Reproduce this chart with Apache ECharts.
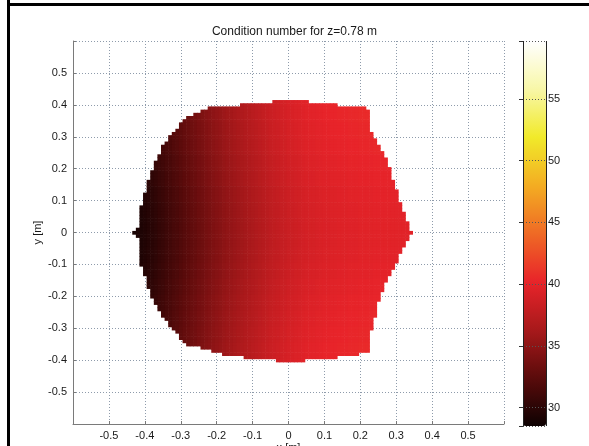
<!DOCTYPE html>
<html>
<head>
<meta charset="utf-8">
<script src="https://cdn.jsdelivr.net/npm/echarts@6/dist/echarts.min.js"></script>
<style>
html,body{margin:0;padding:0;background:#fff;}
#chart{width:589px;height:446px;}
</style>
</head>
<body>
<div id="chart"></div>
<script>
// ---------- data ----------
// grid rows (y, m), top to bottom, and the x-extent (cell centres, m) of the reachable region in each row
var yRows = [0.41,0.40,0.39,0.38,0.37,0.36,0.35,0.34,0.33,0.32,0.31,0.30,0.29,0.28,0.27,0.26,0.25,0.24,0.23,0.22,0.21,0.20,0.19,0.18,0.17,0.16,0.15,0.14,0.13,0.12,0.11,0.10,0.09,0.08,0.07,0.06,0.05,0.04,0.03,0.02,0.01,0.00,
  -0.01,-0.02,-0.03,-0.04,-0.05,-0.06,-0.07,-0.08,-0.09,-0.10,-0.11,-0.12,-0.13,-0.14,-0.15,-0.16,-0.17,-0.18,-0.19,-0.20,-0.21,-0.22,-0.23,-0.24,-0.25,-0.26,-0.27,-0.28,-0.29,-0.30,-0.31,-0.32,-0.33,-0.34,-0.35,-0.36,-0.37,-0.38,-0.39,-0.40];
var xLeft = [-0.04,-0.13,-0.22,-0.24,-0.26,-0.28,-0.29,-0.30,-0.30,-0.31,-0.32,-0.33,-0.33,-0.34,-0.35,-0.35,-0.35,-0.36,-0.36,-0.37,-0.37,-0.37,-0.38,-0.38,-0.38,-0.39,-0.39,-0.39,-0.39,-0.40,-0.40,-0.40,-0.40,-0.41,-0.41,-0.41,-0.41,-0.41,-0.41,-0.41,-0.42,-0.43,
  -0.42,-0.41,-0.41,-0.41,-0.41,-0.41,-0.41,-0.41,-0.41,-0.41,-0.40,-0.40,-0.40,-0.39,-0.39,-0.39,-0.39,-0.38,-0.38,-0.38,-0.37,-0.37,-0.36,-0.36,-0.35,-0.35,-0.34,-0.33,-0.33,-0.32,-0.31,-0.30,-0.30,-0.29,-0.28,-0.24,-0.21,-0.18,-0.12,-0.03];
var xRight = [0.05,0.13,0.21,0.22,0.22,0.22,0.22,0.22,0.22,0.22,0.23,0.23,0.24,0.24,0.25,0.25,0.26,0.26,0.27,0.27,0.27,0.28,0.28,0.28,0.28,0.29,0.29,0.29,0.30,0.30,0.30,0.30,0.31,0.31,0.31,0.32,0.32,0.32,0.33,0.33,0.33,0.34,
  0.33,0.33,0.32,0.32,0.31,0.31,0.30,0.30,0.30,0.29,0.29,0.28,0.28,0.27,0.27,0.26,0.26,0.26,0.25,0.25,0.25,0.24,0.24,0.24,0.24,0.24,0.23,0.23,0.23,0.23,0.22,0.22,0.22,0.22,0.22,0.22,0.22,0.19,0.13,0.04];
// condition number across x (along y = 0), one value per 0.01 m column starting at colStart
var colStart = -0.43;
var condProfile = [29.0,29.1,29.3,29.5,29.7,29.9,30.1,30.4,30.6,30.9,31.1,31.4,31.6,31.9,32.2,32.4,32.7,32.9,33.2,33.4,
  33.7,33.9,34.2,34.4,34.6,34.9,35.1,35.3,35.5,35.7,35.9,36.1,36.3,36.5,36.7,36.9,37.1,37.3,37.5,37.7,
  37.8,38.0,38.1,38.3,38.4,38.5,38.6,38.8,38.9,39.0,39.0,39.1,39.2,39.3,39.3,39.4,39.4,39.5,39.5,39.5,
  39.6,39.6,39.6,39.7,39.7,39.7,39.7,39.8,39.8,39.8,39.8,39.8,39.8,39.8,39.8,39.8,39.8,39.8];
// extra condition number seen towards the top/bottom edges, per 0.05 m band of |y|
var rowShift = [0, 0.05, 0.15, 0.3, 0.45, 0.6, 0.72, 0.82, 0.9];
var colorMin = 28.5, colorMax = 59.7;
var xTicks = [-0.5,-0.4,-0.3,-0.2,-0.1,0,0.1,0.2,0.3,0.4,0.5];
var cbTicks = [30,35,40,45,50,55];

// ---------- build cells ----------
var cells = [];
for (var r = 0; r < yRows.length; r++) {
  var y = yRows[r];
  var band = Math.min(rowShift.length - 1, Math.floor(Math.abs(y) / 0.05 + 1e-6));
  var a = Math.round(xLeft[r] * 100), b = Math.round(xRight[r] * 100);
  for (var k = a; k <= b; k++) {
    var ci = k - Math.round(colStart * 100);
    cells.push([k / 100, y, condProfile[ci] + rowShift[band]]);
  }
}

var font = 'Liberation Sans, Arial, sans-serif';
var gridLine = {show: true, lineStyle: {color: '#8e9bab', type: [1, 2], width: 1}};
var chart = echarts.init(document.getElementById('chart'), null, {renderer: 'canvas'});
chart.setOption({
  animation: false,
  backgroundColor: '#ffffff',
  title: {
    text: 'Condition number for z=0.78 m', left: 'center', top: 21,
    textStyle: {fontFamily: font, fontSize: 12, fontWeight: 'normal', color: '#1a1a1a'}
  },
  grid: [
    {left: 73, top: 41, width: 431, height: 383, containLabel: false, outerBoundsMode: 'none'},
    {left: 523, top: 41, width: 23, height: 385, containLabel: false, outerBoundsMode: 'none'}
  ],
  xAxis: [
    {
      type: 'value', gridIndex: 0, min: -0.6, max: 0.6, interval: 0.1,
      name: 'x [m]', nameLocation: 'middle', nameGap: 18, nameMoveOverlap: false,
      nameTextStyle: {fontFamily: font, fontSize: 11, color: '#1a1a1a', verticalAlign: 'top'},
      axisLine: {show: true, onZero: false, lineStyle: {color: '#7a7a7a', width: 1}},
      axisTick: {show: true, inside: true, length: 3, lineStyle: {color: '#7a7a7a'}},
      axisLabel: {fontFamily: font, fontSize: 11, color: '#1a1a1a', margin: 6,
        formatter: function (v) { var t = Math.round(v * 10) / 10; return xTicks.indexOf(t) >= 0 ? String(t) : ''; }},
      splitLine: gridLine
    },
    {
      type: 'value', gridIndex: 1, min: 0, max: 1, interval: 1, z: 10,
      axisLine: {show: false}, axisTick: {show: false}, axisLabel: {show: false},
      splitLine: {show: true, lineStyle: {color: '#222', width: 1}}
    }
  ],
  yAxis: [
    {
      type: 'value', gridIndex: 0, min: -0.6, max: 0.6, interval: 0.1,
      name: 'y [m]', nameLocation: 'middle', nameGap: 30, nameRotate: 90, nameMoveOverlap: false,
      nameTextStyle: {fontFamily: font, fontSize: 11, color: '#1a1a1a'},
      axisLine: {show: true, onZero: false, lineStyle: {color: '#7a7a7a', width: 1}},
      axisTick: {show: true, inside: true, length: 3, lineStyle: {color: '#7a7a7a'}},
      axisLabel: {fontFamily: font, fontSize: 11, color: '#1a1a1a', margin: 6,
        formatter: function (v) { var t = Math.round(v * 10) / 10; return xTicks.indexOf(t) >= 0 ? String(t) : ''; }},
      splitLine: gridLine
    },
    {
      type: 'value', gridIndex: 1, min: colorMin, max: colorMax, position: 'right', z: 10,
      axisLine: {show: false},
      axisTick: {show: true, inside: true, length: 4, lineStyle: {color: '#333'}},
      axisLabel: {fontFamily: font, fontSize: 11, color: '#1a1a1a', margin: 2,
        formatter: function (v) { return cbTicks.indexOf(Math.round(v * 1000) / 1000) >= 0 ? String(v) : ''; }},
      splitLine: {show: true, lineStyle: {color: '#555', type: [1, 2], width: 1}}
    }
  ],
  visualMap: {
    type: 'continuous', seriesIndex: 0, dimension: 2,
    min: colorMin, max: colorMax, calculable: false, realtime: false,
    left: 523, top: 41, itemWidth: 23, itemHeight: 385, padding: 0,
    text: null, hoverLink: false,
    inRange: {color: ['#0e0202', '#5a0b0b', '#a8191b', '#e8242a', '#ef6a25', '#f3ad22', '#f1ea2a', '#f8f7a8', '#ffffff']}
  },
  series: [{
    type: 'custom', xAxisIndex: 0, yAxisIndex: 0,
    data: cells, encode: {x: 0, y: 1}, progressive: 0, silent: true,
    renderItem: function (params, api) {
      var x = api.value(0), y = api.value(1);
      var p0 = api.coord([x - 0.005, y + 0.005]);
      var p1 = api.coord([x + 0.005, y - 0.005]);
      return {type: 'rect', shape: {x: p0[0], y: p0[1], width: p1[0] - p0[0] + 0.6, height: p1[1] - p0[1] + 0.6},
        style: {fill: api.visual('color')}};
    }
  }],
  graphic: [
    {type: 'rect', left: 7, top: 0, shape: {width: 3, height: 446}, style: {fill: '#000'}, z: 100},
    {type: 'rect', left: 7, top: 3, shape: {width: 582, height: 3}, style: {fill: '#000'}, z: 100}
  ]
});
</script>
</body>
</html>
